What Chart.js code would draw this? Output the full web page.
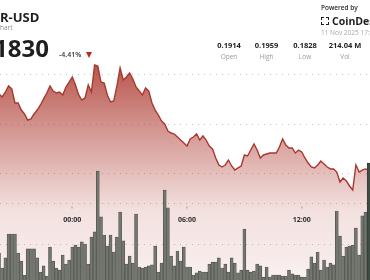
<!DOCTYPE html>
<html>
<head>
<meta charset="utf-8">
<script src="https://cdn.jsdelivr.net/npm/chart.js@4.4.1/dist/chart.umd.min.js"></script>
<style>
  html, body { margin:0; padding:0; background:#fff; }
  body { width:370px; height:280px; overflow:hidden; position:relative; font-family:"Open Sans", "Noto Sans", sans-serif; }
  #wrap { position:absolute; left:0; top:0; width:370px; height:280px; }
  .t { position:absolute; white-space:nowrap; line-height:1; }
  .stat { position:absolute; width:50px; text-align:center; line-height:1; white-space:nowrap; }
</style>
</head>
<body>
<div id="wrap"><canvas id="c" width="370" height="280"></canvas></div>

<div class="t" style="left:0px;top:11px;font-size:13px;font-weight:700;color:#1e1e1e;">R-USD</div>
<div class="t" style="left:0px;top:25px;font-size:6.5px;color:#8a8a8a;">hart</div>
<div class="t" style="left:-6px;top:36px;font-size:24px;font-weight:700;color:#1e1e1e;">1830</div>
<div class="t" style="left:59px;top:51px;font-size:7px;font-weight:600;color:#333;">-4.41%</div>
<div style="position:absolute;left:86px;top:51.5px;width:0;height:0;border-left:3.5px solid transparent;border-right:3.5px solid transparent;border-top:6px solid #c0281e;"></div>

<div class="t" style="left:321px;top:5px;font-size:6.5px;font-weight:600;color:#2a2a2a;">Powered by</div>
<div style="position:absolute;left:321px;top:17px;width:6px;height:6px;border:1.5px dashed #1e1e1e;"></div>
<div class="t" style="left:332px;top:16px;font-size:10.5px;font-weight:700;color:#1e1e1e;">CoinDesk</div>
<div class="t" style="left:321px;top:30px;font-size:6.5px;color:#a8a8a8;">11 Nov 2025 17:00</div>

<div class="stat" style="left:204px;top:41.5px;font-size:7.5px;font-weight:700;color:#222;">0.1914</div>
<div class="stat" style="left:204px;top:54px;font-size:6.5px;color:#9a9a9a;">Open</div>
<div class="stat" style="left:241.5px;top:41.5px;font-size:7.5px;font-weight:700;color:#222;">0.1959</div>
<div class="stat" style="left:241.5px;top:54px;font-size:6.5px;color:#9a9a9a;">High</div>
<div class="stat" style="left:280px;top:41.5px;font-size:7.5px;font-weight:700;color:#222;">0.1828</div>
<div class="stat" style="left:280px;top:54px;font-size:6.5px;color:#9a9a9a;">Low</div>
<div class="stat" style="left:320px;top:41.5px;font-size:7.5px;font-weight:700;color:#222;">214.04 M</div>
<div class="stat" style="left:320px;top:54px;font-size:6.5px;color:#9a9a9a;">Vol</div>

<script>
// ---- data (10-minute buckets; minutes relative to 00:00) ----
const firstBucketMinute = -230;
const bucketMinutes = 10;

const prices = [
  0.19298,
  0.19268, 0.19318, 0.19379, 0.19349, 0.19207, 0.19207, 0.19136, 0.19096, 0.19035, 0.19046,
  0.19096, 0.19136, 0.19187, 0.19248, 0.19308, 0.19379, 0.19328, 0.19308, 0.19318, 0.19288,
  0.19369, 0.19419, 0.19470, 0.19389, 0.19288, 0.19237, 0.19258, 0.19389, 0.19318, 0.19591,
  0.19581, 0.19419, 0.19409, 0.19288, 0.19217, 0.19227, 0.19379, 0.19561, 0.19439, 0.19470,
  0.19510, 0.19450, 0.19369, 0.19328, 0.19288, 0.19359, 0.19328, 0.19207, 0.19136, 0.19086,
  0.19025, 0.18995, 0.18924, 0.18904, 0.18894, 0.18864, 0.18833, 0.18803, 0.18773, 0.18844,
  0.18864, 0.18894, 0.18833, 0.18874, 0.18833, 0.18773, 0.18743, 0.18652, 0.18581, 0.18561,
  0.18581, 0.18631, 0.18571, 0.18530, 0.18551, 0.18571, 0.18682, 0.18672, 0.18732, 0.18793,
  0.18732, 0.18652, 0.18682, 0.18692, 0.18702, 0.18702, 0.18702, 0.18763, 0.18844, 0.18783,
  0.18753, 0.18753, 0.18702, 0.18732, 0.18712, 0.18652, 0.18601, 0.18561, 0.18551, 0.18581,
  0.18621, 0.18591, 0.18561, 0.18541, 0.18541, 0.18510, 0.18409, 0.18450, 0.18419, 0.18369,
  0.18328, 0.18581, 0.18510, 0.18530, 0.18541, 0.18530
];

const volumes = [
  1.56, 0.83, 1.32, 2.49, 2.49, 2.49, 1.56, 1.17, 0.49, 1.76,
  1.76, 1.76, 1.32, 0.63, 0.93, 0.44, 1.85, 1.17, 0.83, 0.73,
  1.46, 1.02, 1.22, 1.85, 1.95, 1.85, 2.10, 2.00, 1.02, 2.34,
  2.59, 5.56, 3.32, 2.44, 1.90, 2.44, 1.61, 2.34, 3.56, 2.15,
  1.02, 1.41, 1.07, 3.46, 0.88, 0.83, 0.88, 0.93, 0.98, 1.90,
  0.63, 1.07, 4.63, 3.76, 1.41, 0.93, 1.66, 1.17, 1.85, 0.88,
  0.88, 0.49, 0.59, 0.68, 0.63, 0.63, 1.02, 1.12, 1.12, 1.32,
  0.83, 1.02, 0.63, 1.32, 1.07, 0.59, 0.73, 2.73, 0.73, 0.63,
  0.68, 1.02, 0.93, 0.39, 0.88, 0.39, 0.49, 0.49, 0.49, 0.44,
  0.44, 0.73, 0.54, 0.49, 0.49, 0.39, 0.39, 0.78, 1.37, 1.07,
  1.61, 0.73, 1.22, 0.88, 1.07, 0.98, 3.61, 2.39, 1.41, 1.85,
  1.90, 1.95, 2.78, 1.46, 3.37, 3.56, 5.95
];

const tickLabels = ['00:00', '06:00', '12:00'];
const tickMinutes = [0, 360, 720];
const priceGrid = [0.185, 0.190, 0.195];
const volumeGrid = [2, 4];

// ---- build points ----
const minutes = volumes.map((_, i) => firstBucketMinute + i * bucketMinutes);
const pricePts = prices.map((v, i) => ({ x: minutes[i], y: v }));
const volPts = volumes.map((v, i) => ({ x: minutes[i], y: v }));

const gridPlugin = {
  id: 'dotGrid',
  beforeDatasetsDraw(chart) {
    const { ctx, scales, chartArea } = chart;
    ctx.save();
    ctx.strokeStyle = '#c4c4c4';
    ctx.lineWidth = 1;
    ctx.setLineDash([1, 5]);
    const lines = priceGrid.map(v => scales.y.getPixelForValue(v))
      .concat(volumeGrid.map(v => scales.yv.getPixelForValue(v)));
    lines.forEach(py => {
      const yy = Math.round(py) + 0.5;
      ctx.beginPath();
      ctx.moveTo(chartArea.left, yy);
      ctx.lineTo(chartArea.right, yy);
      ctx.stroke();
    });
    ctx.restore();
  }
};

const labelPlugin = {
  id: 'timeLabels',
  afterDatasetsDraw(chart) {
    const { ctx, scales } = chart;
    ctx.save();
    ctx.font = '700 7px "Open Sans", "Noto Sans", sans-serif';
    ctx.textAlign = 'center';
    ctx.textBaseline = 'middle';
    tickLabels.forEach((lab, i) => {
      const x = scales.x.getPixelForValue(tickMinutes[i]);
      ctx.fillStyle = '#2e2e2e';
      ctx.fillText(lab, x, 219.5);
      ctx.fillStyle = '#9a9a9a';
      ctx.fillRect(Math.round(x) - 0.5, 206.5, 1, 2);
    });
    ctx.restore();
  }
};

function fillGradient(context) {
  const chart = context.chart;
  const area = chart.chartArea;
  if (!area) return 'rgba(170,50,40,0.3)';
  const g = chart.ctx.createLinearGradient(0, area.top + 60, 0, area.bottom);
  g.addColorStop(0, 'rgba(170,50,40,0.85)');
  g.addColorStop(0.25, 'rgba(170,50,40,0.58)');
  g.addColorStop(0.5, 'rgba(170,50,40,0.33)');
  g.addColorStop(0.68, 'rgba(170,50,40,0.15)');
  g.addColorStop(1, 'rgba(170,50,40,0.07)');
  return g;
}

new Chart(document.getElementById('c'), {
  type: 'bar',
  data: {
    datasets: [
      {
        type: 'bar',
        label: 'Volume',
        data: volPts,
        yAxisID: 'yv',
        order: 0,
        backgroundColor: (c) => c.dataIndex === volumes.length - 1 ? '#3e4b43' : '#747670',
        borderColor: (c) => c.dataIndex === volumes.length - 1 ? '#2e3a33' : '#4f524c',
        borderWidth: 0.7,
        borderSkipped: 'bottom',
        barThickness: 3
      },
      {
        type: 'line',
        label: 'Price',
        data: pricePts,
        yAxisID: 'y',
        order: 1,
        borderColor: '#a8372e',
        borderWidth: 1.4,
        pointRadius: 0,
        tension: 0,
        fill: 'start',
        backgroundColor: fillGradient
      }
    ]
  },
  options: {
    responsive: false,
    animation: false,
    events: [],
    layout: { padding: 0 },
    plugins: { legend: { display: false }, tooltip: { enabled: false } },
    scales: {
      x: { type: 'linear', display: false, offset: false, min: -226.9, max: 934.2 },
      y: { display: false, min: 0.174194, max: 0.202474 },
      yv: { display: false, position: 'right', min: 0.244, max: 13.902 }
    }
  },
  plugins: [gridPlugin, labelPlugin]
});
</script>
</body>
</html>
